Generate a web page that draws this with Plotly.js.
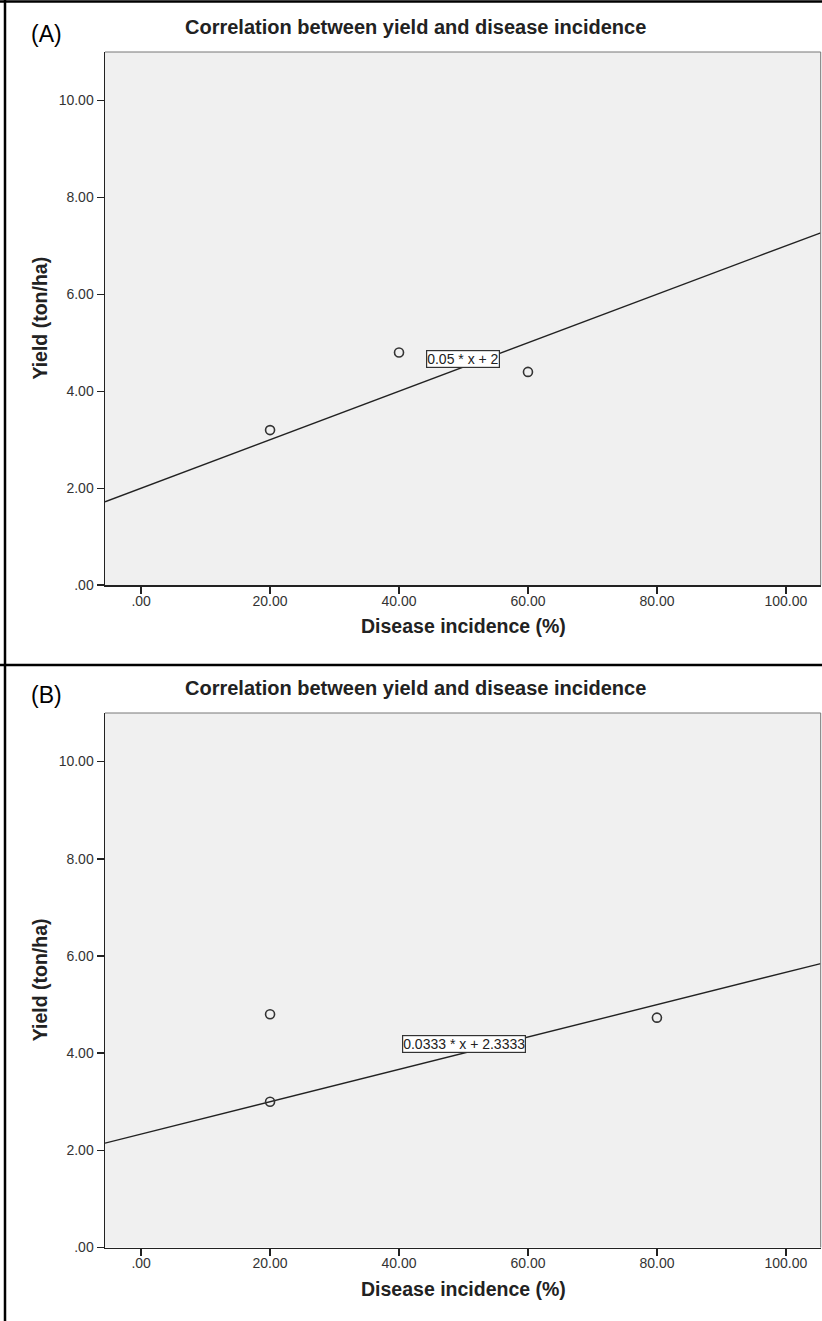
<!DOCTYPE html>
<html><head><meta charset="utf-8">
<script src="https://cdn.plot.ly/plotly-3.0.1.min.js"></script>
<style>html,body{margin:0;padding:0;background:#fff}#chart{width:822px;height:1321px}</style>
</head><body><div id="chart"></div><script>
const chartTitle = "Correlation between yield and disease incidence";
const xTitle = "Disease incidence (%)";
const yTitle = "Yield (ton/ha)";
const panelLabels = ["(A)", "(B)"];
const xTickVals = [0, 20, 40, 60, 80, 100];
const xTickText = [".00", "20.00", "40.00", "60.00", "80.00", "100.00"];
const yTickVals = [0, 2, 4, 6, 8, 10];
const yTickText = [".00", "2.00", "4.00", "6.00", "8.00", "10.00"];
const incidenceA = [20, 40, 60];
const yieldA = [3.2, 4.8, 4.4];
const incidenceB = [20, 20, 80];
const yieldB = [4.8, 3.0, 4.73];
const fitSlope = [0.05, 0.0333];
const fitIntercept = [2, 2.3333];
const fitLabels = ["0.05 * x + 2", "0.0333 * x + 2.3333"];
const xRange = [-5.6, 105.4];
const yRange = [0, 11];

const W = 822, H = 1321;
const px = v => v / W;
const py = v => 1 - v / H;
const FONT = "Liberation Sans, Arial, sans-serif";
const INK = "#222";

const panels = [
  {x: incidenceA, y: yieldA, xa: "x", ya: "y", top: 52, bottom: 585.2, labelPos: [50, 4.67]},
  {x: incidenceB, y: yieldB, xa: "x2", ya: "y2", top: 713, bottom: 1247.5, labelPos: [50.1, 4.18]}
];

const traces = [];
panels.forEach((p, i) => {
  traces.push({
    type: "scatter", mode: "lines", xaxis: p.xa, yaxis: p.ya,
    x: xRange, y: xRange.map(v => fitSlope[i] * v + fitIntercept[i]),
    line: {color: INK, width: 1.4}, hoverinfo: "skip", showlegend: false
  });
  traces.push({
    type: "scatter", mode: "markers", xaxis: p.xa, yaxis: p.ya,
    x: p.x, y: p.y,
    marker: {symbol: "circle-open", size: 9, color: "#333", line: {width: 1.6, color: "#333"}},
    showlegend: false
  });
});

function xAxis(anchor) {
  return {
    anchor: anchor, domain: [px(105), px(820.7)], range: xRange,
    tickmode: "array", tickvals: xTickVals, ticktext: xTickText,
    ticks: "outside", ticklen: 7, tickwidth: 1.5, tickcolor: INK,
    ticklabelstandoff: -5,
    showline: true, linecolor: INK, linewidth: 1.5,
    showgrid: false, zeroline: false,
    tickfont: {family: FONT, size: 14, color: "#333"}
  };
}
function yAxis(anchor, p) {
  return {
    anchor: anchor, domain: [py(p.bottom), py(p.top)], range: yRange,
    tickmode: "array", tickvals: yTickVals, ticktext: yTickText,
    ticks: "outside", ticklen: 7, tickwidth: 1.5, tickcolor: INK,
    showline: true, linecolor: INK, linewidth: 1.5,
    showgrid: false, zeroline: false,
    tickfont: {family: FONT, size: 14, color: "#333"}
  };
}

const annotations = [];
const shapes = [];
panels.forEach((p, i) => {
  annotations.push({xref: "paper", yref: "paper", x: px(415), y: py(p.top - 25), text: chartTitle,
    showarrow: false, xanchor: "center", yanchor: "middle",
    font: {family: FONT, size: 20, color: INK, weight: "bold"}});
  annotations.push({xref: "paper", yref: "paper", x: px(463), y: py(p.bottom + 41), text: xTitle,
    showarrow: false, xanchor: "center", yanchor: "middle",
    font: {family: FONT, size: 19.5, color: INK, weight: "bold"}});
  annotations.push({xref: "paper", yref: "paper", x: px(40), y: py((p.top + p.bottom) / 2), text: yTitle,
    showarrow: false, textangle: -90, xanchor: "center", yanchor: "middle",
    font: {family: FONT, size: 19.5, color: INK, weight: "bold"}});
  annotations.push({xref: "paper", yref: "paper", x: px(46), y: py(p.top - 18), text: panelLabels[i],
    showarrow: false, xanchor: "center", yanchor: "middle",
    font: {family: FONT, size: 23, color: "#000"}});
  annotations.push({xref: p.xa, yref: p.ya, x: p.labelPos[0], y: p.labelPos[1], text: fitLabels[i],
    showarrow: false, xanchor: "center", yanchor: "middle",
    bgcolor: "#fff", bordercolor: "#333", borderwidth: 1.2, borderpad: 0,
    font: {family: FONT, size: 14, color: INK}});
  // thin gray plot border on top and right
  shapes.push({type: "line", xref: "paper", yref: "paper", x0: px(105), x1: px(820.7), y0: py(p.top), y1: py(p.top),
    line: {color: "#777", width: 1}});
  shapes.push({type: "line", xref: "paper", yref: "paper", x0: px(820.7), x1: px(820.7), y0: py(p.top), y1: py(p.bottom),
    line: {color: "#777", width: 1}});
});
// outer frame lines
shapes.push({type: "line", xref: "paper", yref: "paper", x0: px(5), x1: px(5), y0: 0, y1: 1, line: {color: "#000", width: 2.5}});
shapes.push({type: "line", xref: "paper", yref: "paper", x0: 0, x1: 1, y0: py(1.5), y1: py(1.5), line: {color: "#000", width: 2.5}});
shapes.push({type: "line", xref: "paper", yref: "paper", x0: 0, x1: 1, y0: py(665), y1: py(665), line: {color: "#000", width: 2.5}});

const layout = {
  width: W, height: H, margin: {l: 0, r: 0, t: 0, b: 0},
  paper_bgcolor: "#fff", plot_bgcolor: "#f0f0f0", showlegend: false,
  xaxis: xAxis("y"), yaxis: yAxis("x", panels[0]),
  xaxis2: xAxis("y2"), yaxis2: yAxis("x2", panels[1]),
  annotations: annotations, shapes: shapes
};
Plotly.newPlot("chart", traces, layout, {staticPlot: true});
</script></body></html>
